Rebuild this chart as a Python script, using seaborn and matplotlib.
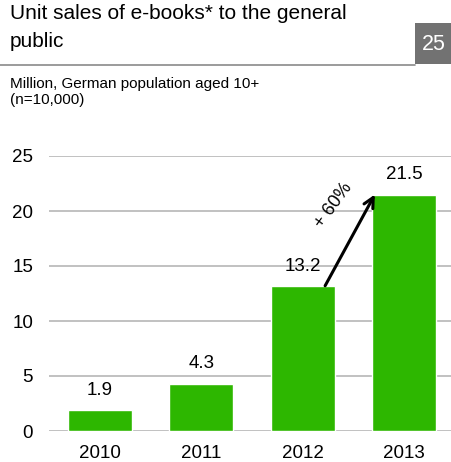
import matplotlib
matplotlib.use("Agg")
import matplotlib.pyplot as plt
import seaborn as sns
import pandas as pd
from matplotlib.patches import Rectangle
from matplotlib.lines import Line2D

# dados
anos = ['2010', '2011', '2012', '2013']
vendas = [1.9, 4.3, 13.2, 21.5]
rotulos = ['1.9', '4.3', '13.2', '21.5']
yticks = [0, 5, 10, 15, 20, 25]
titulo = 'Unit sales of e-books* to the general\npublic'
subtitulo = 'Million, German population aged 10+\n(n=10,000)'
numero_pagina = '25'
crescimento = '+ 60%'

verde = '#2db700'
cinza_grade = '#b0b0b0'

sns.set_theme(style="whitegrid")
plt.rcParams['font.family'] = ['Liberation Sans', 'DejaVu Sans']

df = pd.DataFrame({'ano': anos, 'vendas': vendas})

fig = plt.figure(figsize=(4.52, 4.62), dpi=100)
ax = fig.add_axes([49 / 452, 1 - 431 / 462, 1 - 49 / 452, 275 / 462])

sns.barplot(data=df, x='ano', y='vendas', color=verde, width=0.63,
            saturation=1, ax=ax, zorder=3)

ax.set_xlim(-0.5, 3.47)
ax.set_ylim(0, 25)
ax.set_yticks(yticks)
ax.set_xlabel('')
ax.set_ylabel('')
ax.set_facecolor('white')
ax.grid(axis='y', color=cinza_grade, linewidth=1.1)
ax.grid(axis='x', visible=False)
for s in ax.spines.values():
    s.set_visible(False)
ax.tick_params(axis='both', length=0, labelsize=13.5, colors='black')
ax.tick_params(axis='y', pad=11.5)
ax.tick_params(axis='x', pad=10)

# rótulos das barras
for i, (v, r) in enumerate(zip(vendas, rotulos)):
    ax.annotate(r, (i, v), xytext=(0, 11), textcoords='offset points',
                ha='center', va='baseline', fontsize=13.5, color='black')

# seta de crescimento
ax.annotate('', xy=(2.71, vendas[3]), xytext=(2.22, vendas[2]),
            arrowprops=dict(arrowstyle='->', color='black', lw=2.2,
                            mutation_scale=18, shrinkA=0, shrinkB=0),
            zorder=5)
ax.text(2.30, 20.5, crescimento, rotation=54, ha='center', va='center',
        fontsize=13, color='black')

# título e cabeçalho
fig.text(10 / 452, 1 - 4 / 462, titulo, ha='left', va='top', fontsize=15,
         linespacing=1.6, color='black')
fig.add_artist(Line2D([0, 415 / 452], [1 - 65 / 462, 1 - 65 / 462],
                      color='#8a8a8a', linewidth=1.2))
fig.add_artist(Rectangle((415 / 452, 1 - 64 / 462), 37 / 452, 41 / 462,
                         facecolor='#727272', edgecolor='none',
                         transform=fig.transFigure))
fig.text(434 / 452, 1 - 44 / 462, numero_pagina, ha='center', va='center',
         fontsize=15.5, color='white')
fig.text(10 / 452, 1 - 77 / 462, subtitulo, ha='left', va='top',
         fontsize=11, linespacing=1.15, color='black')

fig.savefig('out.png', dpi=100)
